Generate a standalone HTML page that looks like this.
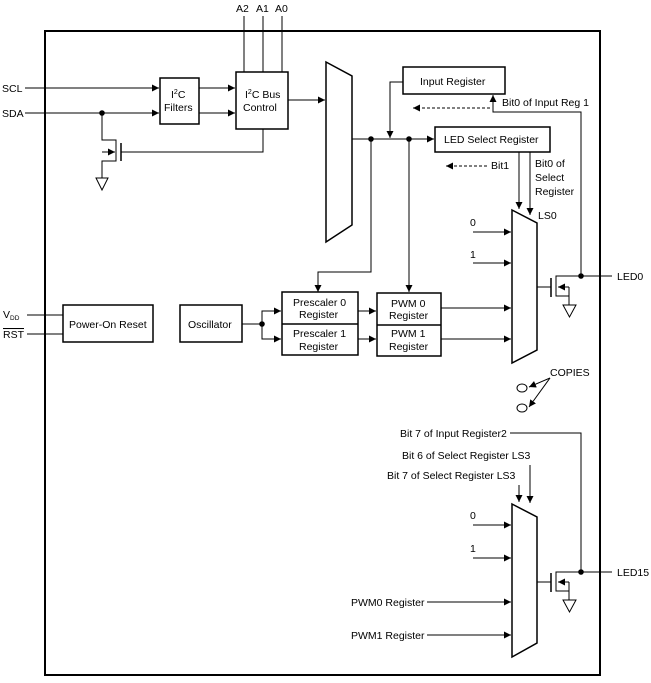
<!DOCTYPE html>
<html><head><meta charset="utf-8"><style>
html,body{margin:0;padding:0;background:#fff}
svg text{font-family:"Liberation Sans",Arial,sans-serif;font-size:10.5px;fill:#000}
</style></head><body>
<svg width="651" height="678" viewBox="0 0 651 678" xmlns="http://www.w3.org/2000/svg">
<defs>
<marker id="a" markerWidth="8" markerHeight="8" refX="7" refY="4" orient="auto" markerUnits="userSpaceOnUse"><path d="M0,0.5 L7,4 L0,7.5z" fill="#000"/></marker>
</defs>
<g stroke="#000" fill="none" stroke-width="1">
<rect x="45" y="31" width="555" height="644" stroke-width="2"/>
<!-- address lines -->
<line x1="244" y1="16" x2="244" y2="72"/><line x1="263" y1="16" x2="263" y2="72"/><line x1="282" y1="16" x2="282" y2="72"/>
<!-- boxes -->
<rect x="160" y="78" width="39" height="46" stroke-width="1.5"/>
<rect x="236" y="72" width="52" height="57" stroke-width="1.5"/>
<line x1="25" y1="88" x2="159" y2="88" marker-end="url(#a)"/>
<line x1="25" y1="113" x2="159" y2="113" marker-end="url(#a)"/>
<line x1="199" y1="88" x2="235" y2="88" marker-end="url(#a)"/>
<line x1="199" y1="113" x2="235" y2="113" marker-end="url(#a)"/>
<!-- SDA transistor -->
<polyline points="102,113 102,140 116,140 116,161 102,161 102,178"/>
<line x1="102" y1="152" x2="115" y2="152" marker-end="url(#a)"/>
<line x1="121" y1="143" x2="121" y2="161" stroke-width="1.5"/>
<polyline points="121,152 263,152 263,129"/>
<polygon points="96,178 108,178 102,190"/>
<!-- big mux -->
<line x1="288" y1="100" x2="325" y2="100" marker-end="url(#a)"/>
<polygon points="326,62 352,76 352,225 326,242" stroke-width="1.5"/>
<line x1="352" y1="139" x2="434" y2="139" marker-end="url(#a)"/>
<rect x="403" y="67" width="102" height="27" stroke-width="1.5"/>
<rect x="435" y="127" width="115" height="25" stroke-width="1.5"/>
<polyline points="403,82 390,82 390,138" marker-end="url(#a)"/>
<line x1="490" y1="108" x2="413" y2="108" stroke-dasharray="3,2" marker-end="url(#a)"/>
<polyline points="581,276 581,112 493,112 493,95" marker-end="url(#a)"/>
<line x1="487" y1="166" x2="446" y2="166" stroke-dasharray="3,2" marker-end="url(#a)"/>
<line x1="519" y1="152" x2="519" y2="209" marker-end="url(#a)"/>
<line x1="530" y1="152" x2="530" y2="215" marker-end="url(#a)"/>
<polyline points="371,139 371,272 318,272 318,292" marker-end="url(#a)"/>
<line x1="409" y1="139" x2="409" y2="292" marker-end="url(#a)"/>
<!-- left blocks -->
<rect x="63" y="305" width="90" height="37" stroke-width="1.5"/>
<rect x="180" y="305" width="62" height="37" stroke-width="1.5"/>
<line x1="27" y1="315" x2="63" y2="315"/><line x1="27" y1="334" x2="63" y2="334"/>
<rect x="282" y="292" width="76" height="63" stroke-width="1.5"/>
<line x1="282" y1="324" x2="358" y2="324" stroke-width="1.5"/>
<rect x="377" y="293" width="64" height="63" stroke-width="1.5"/>
<line x1="377" y1="325" x2="441" y2="325" stroke-width="1.5"/>
<line x1="242" y1="324" x2="262" y2="324"/>
<polyline points="281,311 262,311 262,339 281,339"/>
<line x1="262" y1="311" x2="281" y2="311" marker-end="url(#a)"/>
<line x1="262" y1="339" x2="281" y2="339" marker-end="url(#a)"/>
<line x1="358" y1="311" x2="376" y2="311" marker-end="url(#a)"/>
<line x1="358" y1="339" x2="376" y2="339" marker-end="url(#a)"/>
<!-- mux 0 -->
<polygon points="512,210 537,223 537,350 512,363" stroke-width="1.5"/>
<line x1="473" y1="232" x2="511" y2="232" marker-end="url(#a)"/>
<line x1="473" y1="263" x2="511" y2="263" marker-end="url(#a)"/>
<line x1="441" y1="308" x2="511" y2="308" marker-end="url(#a)"/>
<line x1="441" y1="339" x2="511" y2="339" marker-end="url(#a)"/>
<line x1="537" y1="287" x2="551" y2="287"/>
<line x1="551" y1="278" x2="551" y2="297" stroke-width="1.5"/>
<polyline points="612,276 556,276 556,296 569,296 569,305"/>
<polyline points="569,296 569,287"/>
<line x1="569" y1="287" x2="558" y2="287" marker-end="url(#a)"/>
<polygon points="563,305 576,305 569.5,317"/>
<!-- copies -->
<ellipse cx="522" cy="388" rx="5" ry="4"/>
<ellipse cx="522" cy="408" rx="5" ry="4"/>
<line x1="550" y1="378" x2="529" y2="387" marker-end="url(#a)"/>
<line x1="550" y1="378" x2="529" y2="407" marker-end="url(#a)"/>
<!-- mux 15 -->
<polygon points="512,504 537,517 537,643 512,657" stroke-width="1.5"/>
<polyline points="510,433 581,433 581,572"/>
<line x1="530" y1="465" x2="530" y2="503" marker-end="url(#a)"/>
<line x1="519" y1="485" x2="519" y2="502" marker-end="url(#a)"/>
<line x1="473" y1="525" x2="511" y2="525" marker-end="url(#a)"/>
<line x1="473" y1="558" x2="511" y2="558" marker-end="url(#a)"/>
<line x1="427" y1="602" x2="511" y2="602" marker-end="url(#a)"/>
<line x1="427" y1="635" x2="511" y2="635" marker-end="url(#a)"/>
<line x1="537" y1="582" x2="551" y2="582"/>
<line x1="551" y1="573" x2="551" y2="592" stroke-width="1.5"/>
<polyline points="612,572 556,572 556,591 569,591 569,600"/>
<line x1="569" y1="591" x2="569" y2="582"/>
<line x1="569" y1="582" x2="558" y2="582" marker-end="url(#a)"/>
<polygon points="563,600 576,600 569.5,612"/>
</g>
<g fill="#000">
<circle cx="102" cy="113" r="2.8"/><circle cx="371" cy="139" r="2.8"/><circle cx="409" cy="139" r="2.8"/>
<circle cx="262" cy="324" r="2.8"/><circle cx="581" cy="276" r="2.8"/><circle cx="581" cy="572" r="2.8"/>
</g>
<text x="236" y="12">A2</text><text x="256" y="12">A1</text><text x="275" y="12">A0</text>
<text x="2" y="92">SCL</text><text x="2" y="117">SDA</text>
<text x="171" y="98">I<tspan font-size="7" dy="-4">2</tspan><tspan dy="4">C</tspan></text>
<text x="164" y="111">Filters</text>
<text x="245" y="98">I<tspan font-size="7" dy="-4">2</tspan><tspan dy="4">C Bus</tspan></text>
<text x="243" y="111">Control</text>
<text x="420" y="85">Input Register</text>
<text x="444" y="143">LED Select Register</text>
<text x="502" y="106">Bit0 of Input Reg 1</text>
<text x="491" y="169">Bit1</text>
<text x="535" y="167">Bit0 of</text><text x="535" y="181">Select</text><text x="535" y="195">Register</text>
<text x="538" y="219">LS0</text>
<text x="470" y="226">0</text><text x="470" y="258">1</text>
<text x="617" y="280">LED0</text><text x="617" y="576">LED15</text>
<text x="3" y="318">V<tspan font-size="6.5" dy="2">DD</tspan></text>
<text x="3" y="338" text-decoration="overline">RST</text>
<text x="69" y="328">Power-On Reset</text>
<text x="188" y="328">Oscillator</text>
<text x="293" y="306">Prescaler 0</text><text x="299" y="318">Register</text>
<text x="293" y="337">Prescaler 1</text><text x="299" y="350">Register</text>
<text x="391" y="307">PWM 0</text><text x="389" y="319">Register</text>
<text x="391" y="337">PWM 1</text><text x="389" y="350">Register</text>
<text x="550" y="376">COPIES</text>
<text x="400" y="437">Bit 7 of Input Register2</text>
<text x="402" y="459">Bit 6 of Select Register LS3</text>
<text x="387" y="479">Bit 7 of Select Register LS3</text>
<text x="470" y="519">0</text><text x="470" y="552">1</text>
<text x="351" y="606">PWM0 Register</text>
<text x="351" y="639">PWM1 Register</text>
</svg>
</body></html>
